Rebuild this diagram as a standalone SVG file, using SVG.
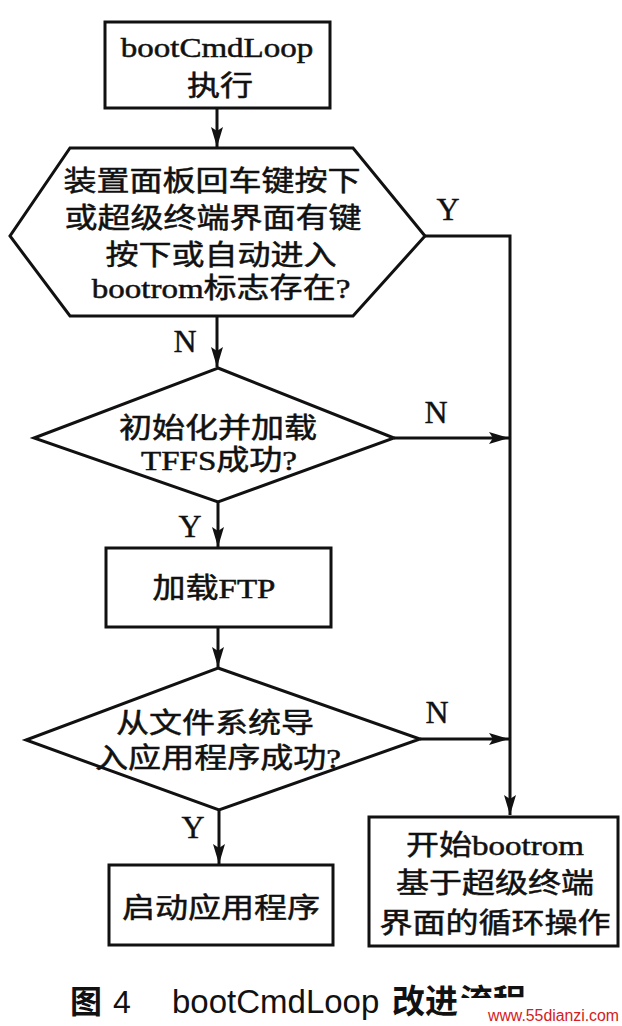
<svg xmlns="http://www.w3.org/2000/svg" width="622" height="1026" viewBox="0 0 622 1026">
<style>
.s{fill:#fff;stroke:#111;stroke-width:3}
.t{font-family:'Liberation Serif','Noto Sans CJK SC',serif;font-size:28px;fill:#111;stroke:#111;stroke-width:0.5;text-anchor:middle}
.l{font-family:'Liberation Serif',serif;font-size:32px;fill:#111;stroke:#111;stroke-width:0.4;text-anchor:middle}
.c{fill:none;stroke:#111;stroke-width:3}
.cap{font-family:'Liberation Sans','Noto Sans CJK SC',sans-serif;fill:#111}
</style>
<defs>
<marker id="ah" markerUnits="userSpaceOnUse" markerWidth="22" markerHeight="14" refX="20" refY="6" orient="auto">
<path d="M0,0 L20,6 L0,12 L4,6 z" fill="#111"/>
</marker>
<clipPath id="capclip"><rect x="0" y="960" width="622" height="38"/></clipPath>
</defs>
<rect width="622" height="1026" fill="#fff"/>
<g id="connectors">
<path class="c" d="M217,108 V147" marker-end="url(#ah)"/>
<path class="c" d="M217,316 V367" marker-end="url(#ah)"/>
<path class="c" d="M218,502 V547" marker-end="url(#ah)"/>
<path class="c" d="M218,627 V667" marker-end="url(#ah)"/>
<path class="c" d="M219,810 V864" marker-end="url(#ah)"/>
<path class="c" d="M425,236 H510 V815" marker-end="url(#ah)"/>
<path class="c" d="M394,438 H509" marker-end="url(#ah)"/>
<path class="c" d="M420,739 H509" marker-end="url(#ah)"/>
</g>
<g id="labels">
<text class="l" x="448" y="220">Y</text>
<text class="l" x="185" y="352">N</text>
<text class="l" x="436" y="423">N</text>
<text class="l" x="190" y="537">Y</text>
<text class="l" x="437" y="723">N</text>
<text class="l" x="193" y="838">Y</text>
</g>
<g id="start">
<rect class="s" x="105" y="22" width="225" height="86"/>
<text class="t" transform="translate(217,57) scale(1.18,1)">bootCmdLoop</text>
<text class="t" transform="translate(220,96) scale(1.18,1)">执行</text>
</g>
<g id="check-key">
<polygon class="s" points="70,148 353,148 425,236 353,316 70,316 10,236"/>
<text class="t" transform="translate(212,191) scale(1.18,1)">装置面板回车键按下</text>
<text class="t" transform="translate(213,228) scale(1.18,1)">或超级终端界面有键</text>
<text class="t" transform="translate(221,265) scale(1.18,1)">按下或自动进入</text>
<text class="t" transform="translate(221,298) scale(1.18,1)">bootrom标志存在?</text>
</g>
<g id="init-tffs">
<polygon class="s" points="218,368 394,438 218,502 34,438"/>
<text class="t" transform="translate(218,438) scale(1.18,1)">初始化并加载</text>
<text class="t" transform="translate(219,470) scale(1.18,1)">TFFS成功?</text>
</g>
<g id="load-ftp">
<rect class="s" x="106" y="548" width="225" height="79"/>
<text class="t" transform="translate(214,598) scale(1.18,1)">加载FTP</text>
</g>
<g id="import-app">
<polygon class="s" points="218,668 420,739 219,810 26,740"/>
<text class="t" transform="translate(215,733) scale(1.18,1)">从文件系统导</text>
<text class="t" transform="translate(218,768) scale(1.18,1)">入应用程序成功?</text>
</g>
<g id="start-app">
<rect class="s" x="109" y="865" width="224" height="80"/>
<text class="t" transform="translate(221,918) scale(1.18,1)">启动应用程序</text>
</g>
<g id="bootrom-loop">
<rect class="s" x="369" y="817" width="249" height="129"/>
<text class="t" transform="translate(495,855) scale(1.18,1)">开始bootrom</text>
<text class="t" transform="translate(495,893) scale(1.18,1)">基于超级终端</text>
<text class="t" transform="translate(495,933) scale(1.18,1)">界面的循环操作</text>
</g>
<g id="caption">
<text class="cap" x="70" y="1013" font-size="32" font-weight="bold">图</text>
<text class="cap" x="113" y="1013" font-size="32">4</text>
<text class="cap" x="172" y="1013" font-size="33">bootCmdLoop</text>
<text class="cap" x="392" y="1013" font-size="33" font-weight="bold">改进</text>
<text class="cap" x="460" y="1013" font-size="33" font-weight="bold" clip-path="url(#capclip)">流程</text>
<text x="488" y="1021" font-family="'Liberation Sans',sans-serif" font-size="16" fill="#d42020" textLength="131" lengthAdjust="spacingAndGlyphs">www.55dianzi.com</text>
</g>
</svg>
